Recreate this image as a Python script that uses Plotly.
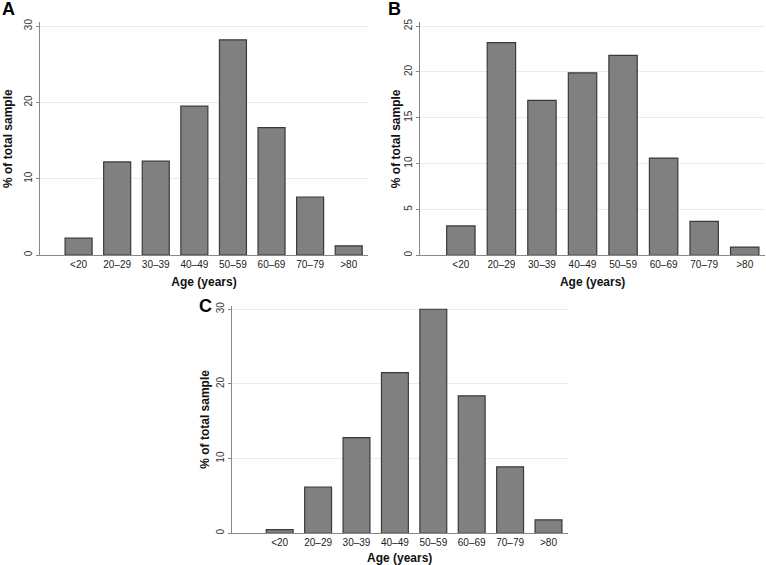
import plotly.graph_objects as go

categories = ["<20", "20\u201329", "30\u201339", "40\u201349", "50\u201359", "60\u201369", "70\u201379", ">80"]
values_a = [2.2, 12.2, 12.3, 19.5, 28.2, 16.7, 7.6, 1.2]
values_b = [3.2, 23.2, 16.9, 19.9, 21.8, 10.6, 3.7, 0.9]
values_c = [0.5, 6.2, 12.8, 21.5, 30.0, 18.4, 8.9, 1.8]
yticks_a = [0, 10, 20, 30]
yticks_b = [0, 5, 10, 15, 20, 25]
yticks_c = [0, 10, 20, 30]

W, H = 766, 565
FONT = "Liberation Sans, Arial, sans-serif"
BAR = "#808080"
EDGE = "#3a3a3a"

fig = go.Figure()

panels = [
    dict(vals=values_a, ticks=yticks_a, yr=[0, 30.5], xr=[-1, 7.5],
         xd=[40, 368], yd=[22.3, 255], sfx="", label="A", lab=(0, 9), ys=7),
    dict(vals=values_b, ticks=yticks_b, yr=[0, 25.4], xr=[-1, 7.5],
         xd=[420.3, 765], yd=[22.4, 255.3], sfx="2", label="B", lab=(386, 9), ys=0),
    dict(vals=values_c, ticks=yticks_c, yr=[0, 30.5], xr=[-1.25, 7.5],
         xd=[231.7, 567.7], yd=[305.5, 533.3], sfx="3", label="C", lab=(197, 306), ys=2),
]

for p in panels:
    fig.add_trace(go.Bar(
        x=list(range(len(categories))), y=p["vals"],
        width=0.7,
        marker=dict(color=BAR, line=dict(color=EDGE, width=1.2)),
        xaxis="x" + p["sfx"], yaxis="y" + p["sfx"],
        showlegend=False, hoverinfo="x+y",
    ))
    xd = [p["xd"][0] / W, p["xd"][1] / W]
    yd = [1 - p["yd"][1] / H, 1 - p["yd"][0] / H]
    fig.layout["xaxis" + p["sfx"]] = dict(
        domain=xd, range=p["xr"], anchor="y" + p["sfx"],
        tickmode="array", tickvals=list(range(len(categories))), ticktext=categories,
        showline=True, linecolor="#888888", linewidth=1,
        showgrid=False, zeroline=False, ticks="", automargin=False,
        tickfont=dict(family=FONT, size=10, color="#222222"),
        title=dict(text="<b>Age (years)</b>", font=dict(family=FONT, size=12, color="#111111"),
                   standoff=8),
    )
    fig.layout["yaxis" + p["sfx"]] = dict(
        domain=yd, range=p["yr"], anchor="x" + p["sfx"],
        tickmode="array", tickvals=p["ticks"],
        tickangle=-90, automargin=False,
        showline=True, linecolor="#888888", linewidth=1,
        showgrid=True, gridcolor="#ebebeb", gridwidth=1, zeroline=False,
        ticks="outside", ticklen=3, tickcolor="#888888",
        tickfont=dict(family=FONT, size=10, color="#333333"),
        title=dict(text="<b>% of total sample</b>", font=dict(family=FONT, size=12, color="#111111"),
                   standoff=p["ys"]),
    )
    fig.add_annotation(
        text="<b>%s</b>" % p["label"], xref="paper", yref="paper",
        x=p["lab"][0] / W, y=1 - p["lab"][1] / H, xanchor="left", yanchor="middle",
        showarrow=False, font=dict(family=FONT, size=18, color="#000000"),
    )

fig.update_layout(
    width=W, height=H,
    margin=dict(l=0, r=0, t=0, b=0, autoexpand=False),
    paper_bgcolor="white", plot_bgcolor="white",
    bargap=0.3,
)

fig.write_html("out.html", config={"displayModeBar": False},
               post_script="document.body.style.margin='0';document.body.style.overflow='hidden';")
